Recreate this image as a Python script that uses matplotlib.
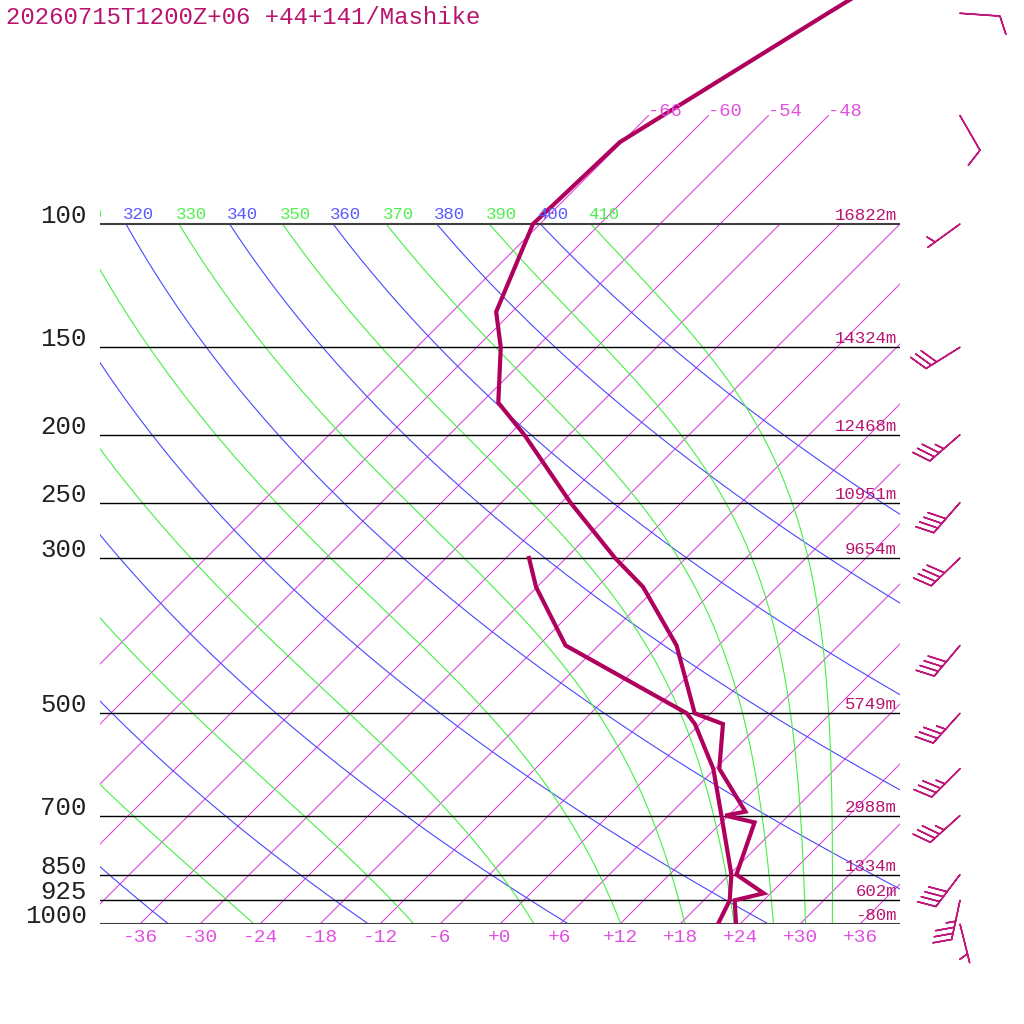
import numpy as np
import matplotlib
matplotlib.use("Agg")
import matplotlib.pyplot as plt
from matplotlib.transforms import offset_copy

# sounding (hPa, degC) in the order the lines are drawn
temp_p = [1000, 925, 904, 850, 716, 700, 691, 600, 518, 500, 400, 330, 300,
          250, 200, 180, 150, 133.5, 100, 76.4, 50, 40]
temp_t = [23.6, 21.1, 23.3, 18.7, 15.3, 11.7, 13.3, 6.4, 2.3, -1.6, -10.2,
          -19.4, -25.1, -35.1, -46.5, -52.3, -57.6, -61.6, -66.7, -66.2,
          -58.3, -54.0]
dwpt_p = [1000, 925, 850, 700, 600, 518, 500, 400, 330, 300]
dwpt_t = [21.8, 20.6, 18.2, 11.3, 5.8, -0.5, -2.4, -21.3, -30.1, -33.7]

# mandatory levels and geopotential heights
levels = [100, 150, 200, 250, 300, 500, 700, 850, 925, 1000]
heights = ["16822m", "14324m", "12468m", "10951m", "9654m", "5749m",
           "2988m", "1334m", "602m", "-80m"]

# winds (direction from, knots)
wind_p = [1000, 925, 850, 700, 600, 500, 400, 300, 250, 200, 150, 100, 70, 50]
wind_dir = [166, 192, 217, 228, 225, 222, 220, 226, 221, 229, 238, 234, 150, 94]
wind_spd = [5, 35, 40, 35, 35, 35, 40, 40, 40, 35, 30, 5, 10, 10]

isotherms = list(range(-66, 37, 6))
upper_isotherms = [-66, -60, -54, -48]
dry_thetas = list(range(240, 401, 20))
moist_thetas = list(range(250, 411, 20))
title = "20260715T1200Z+06 +44+141/Mashike"

ISO = "#e040e0"
BLUE = "#4848ff"
GREEN = "#44f044"
SND = "#b0005e"
DARK = "#b8146e"
MONO = "Liberation Mono"

SKEW = 70.0   # degC shift per decade of pressure
PTOP = 1000 * 10 ** (-924 / 700)


def skew_x(t, p):
    return np.asarray(t, float) + SKEW * np.log10(1000.0 / np.asarray(p, float))


def theta_e(tk, p):
    """Bolton (1980) equivalent potential temperature of a saturated parcel."""
    tc = tk - 273.15
    es = 6.112 * np.exp(17.67 * tc / (tc + 243.5))
    with np.errstate(divide="ignore", invalid="ignore"):
        r = np.where(p - es > 0.1, 622.0 * es / (p - es), np.inf)
        th = tk * (1000.0 / p) ** (0.2854 * (1 - 0.28e-3 * r)) * \
            np.exp((3.376 / tk - 0.00254) * r * (1 + 0.81e-3 * r))
    return np.where(np.isfinite(th), th, 1e9)


def moist_adiabat(the, p):
    lo = np.full_like(p, 120.0)
    hi = np.full_like(p, 330.0)
    for _ in range(60):
        mid = 0.5 * (lo + hi)
        up = theta_e(mid, p) > the
        hi = np.where(up, mid, hi)
        lo = np.where(up, lo, mid)
    return 0.5 * (lo + hi) - 273.15


fig = plt.figure(figsize=(10.24, 10.24), dpi=100)
ax = fig.add_axes([100 / 1024, 100 / 1024, 800 / 1024, 924 / 1024])
ax.set_yscale("log")
ax.set_xlim(-40, 40)
ax.set_ylim(1000, PTOP)
ax.axis("off")

pgrid = np.logspace(3, 2, 300)

# isotherms
for t in isotherms:
    ptop = 70 if t in upper_isotherms else 100
    pp = np.array([1000.0, ptop])
    ax.plot(skew_x([t, t], pp), pp, color=ISO, lw=0.75)
    if t in upper_isotherms:
        ax.text(skew_x(t, 70), 70, f"{t:+d}", color="#e050e0", family=MONO,
                fontsize=13.5, ha="left", va="baseline")

lab_tr = offset_copy(ax.transData, fig=fig, x=-3, y=5, units="dots")


def adiabat_label(x, th, color):
    # labels sit on the 100 hPa line and are cut at the left edge
    if x < -45:
        return
    ax.text(x, 100, str(th), transform=lab_tr, color=color, family=MONO,
            fontsize=12.5, ha="left", va="baseline", clip_on=True)


# dry adiabats
for th in dry_thetas:
    tt = th * (pgrid / 1000.0) ** 0.2857 - 273.15
    ax.plot(skew_x(tt, pgrid), pgrid, color=BLUE, lw=0.8)
    adiabat_label(skew_x(tt[-1], 100), th, "#5a5aff")

# moist adiabats
for th in moist_thetas:
    tt = moist_adiabat(th, pgrid)
    ax.plot(skew_x(tt, pgrid), pgrid, color=GREEN, lw=0.8)
    adiabat_label(skew_x(tt[-1], 100), th, "#50f050")

# mandatory level lines and labels
p_lab_tr = offset_copy(ax.get_yaxis_transform(), fig=fig, x=0, y=1, units="dots")
h_lab_tr = offset_copy(ax.get_yaxis_transform(), fig=fig, x=0, y=4, units="dots")
for p, h in zip(levels, heights):
    edge = p in (100, 1000)
    ax.axhline(p, color="#404040" if edge else "black", lw=1.5 if edge else 1.0)
    ax.text(-13 / 800, p, str(p), transform=p_lab_tr, family=MONO, fontsize=18.5,
            color="#202020", ha="right", va="baseline")
    ax.text(797 / 800, p, h, transform=h_lab_tr, family=MONO, fontsize=12.5,
            color=DARK, ha="right", va="baseline")

# temperature axis labels
t_lab_tr = offset_copy(ax.transData, fig=fig, x=0, y=-18, units="dots")
for t in isotherms[5:]:
    ax.text(t, 1000, f"{t:+d}", transform=t_lab_tr, family=MONO, fontsize=14,
            color="#e050e0", ha="center", va="baseline")

# sounding
ax.plot(skew_x(dwpt_t, dwpt_p), dwpt_p, color=SND, lw=3.0, solid_joinstyle="miter")
ax.plot(skew_x(temp_t, temp_p), temp_p, color=SND, lw=3.0, solid_joinstyle="miter")

# wind barbs
wd = np.radians(wind_dir)
u = -np.array(wind_spd) * np.sin(wd)
v = -np.array(wind_spd) * np.cos(wd)
blen = np.sqrt(2 * 40 * 72 / fig.dpi)
ax.barbs(np.full(len(wind_p), 860 / 800), wind_p, u, v,
         transform=ax.get_yaxis_transform(), clip_on=False, length=blen,
         sizes=dict(spacing=0.155, height=0.44, width=0.36),
         color="#c0187a", linewidth=1.1)

fig.text(6 / 1024, 1 - 24 / 1024, title, family=MONO, fontsize=17.3, color=DARK,
         ha="left", va="baseline")

fig.savefig("out.png", dpi=100)
